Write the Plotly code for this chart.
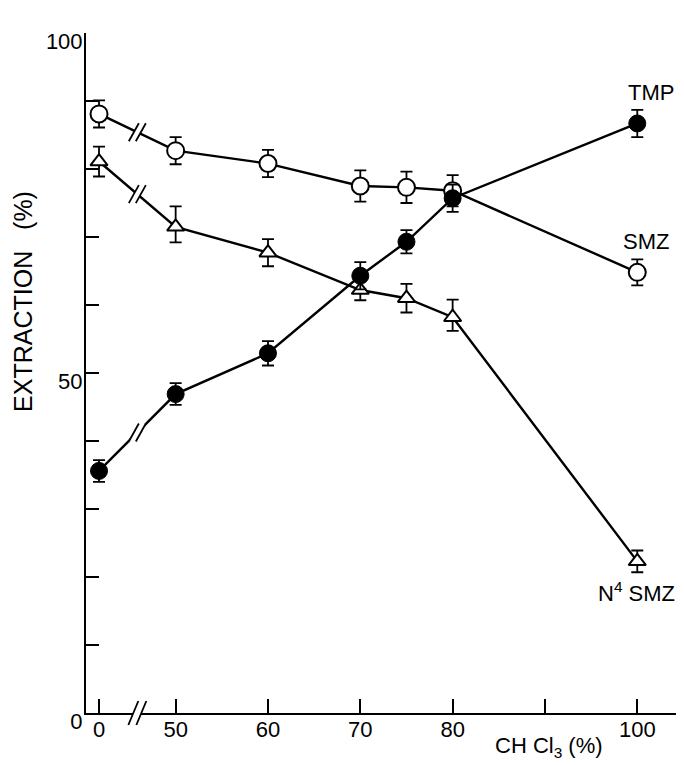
import plotly.graph_objects as go

# ---- data ----
chcl3_pct = [0, 50, 60, 70, 75, 80, 100]

tmp = [35.6, 46.9, 52.9, 64.3, 69.3, 75.7, 86.7]
tmp_err = [1.6, 1.6, 1.8, 2.0, 1.7, 2.0, 2.0]

smz = [88.1, 82.7, 80.8, 77.5, 77.3, 76.8, 64.8]
smz_err = [2.0, 2.0, 2.0, 2.3, 2.3, 2.3, 1.9]

n4smz = [81.1, 71.5, 67.7, 62.2, 61.0, 58.2, 22.3]
n4smz_err_plus = [2.2, 3.0, 2.0, 1.5, 2.1, 2.6, 1.6]
n4smz_err_minus = [2.2, 2.3, 2.0, 1.5, 2.1, 2.0, 1.6]

x_major_ticks = [0, 50, 60, 70, 80, 100]
x_major_text = ["0", "50", "60", "70", "80", "100"]
x_minor_ticks = [90]
y_major_ticks = [0, 50, 100]
y_major_text = ["0", "50", "100"]
y_minor_ticks = [10, 20, 30, 40, 60, 70, 80, 90]

# ---- broken x axis: values below the break are placed just left of 50 ----
BREAK_AT = 50
ZERO_POS = 41.7  # axis position used for the 0 % point (compressed segment)


def axis_pos(v):
    return v if v >= BREAK_AT else ZERO_POS + v


xp = [axis_pos(v) for v in chcl3_pct]
xtick_pos = [axis_pos(v) for v in x_major_ticks]

FONT = "Liberation Sans, Arial, Helvetica, sans-serif"

fig = go.Figure()

line_style = dict(color="black", width=2.4)
err_common = dict(color="black", thickness=1.8, width=6)

fig.add_trace(go.Scatter(
    x=xp, y=smz, mode="lines+markers", name="SMZ",
    line=line_style,
    marker=dict(symbol="circle", size=17, color="white",
                line=dict(color="black", width=2)),
    error_y=dict(type="data", array=smz_err, visible=True, **err_common),
))
fig.add_trace(go.Scatter(
    x=xp, y=n4smz, mode="lines+markers", name="N4 SMZ",
    line=line_style,
    marker=dict(symbol="triangle-up", size=15, color="white",
                line=dict(color="black", width=2)),
    error_y=dict(type="data", array=n4smz_err_plus,
                 arrayminus=n4smz_err_minus, symmetric=False,
                 visible=True, **err_common),
))
fig.add_trace(go.Scatter(
    x=xp, y=tmp, mode="lines+markers", name="TMP",
    line=line_style,
    marker=dict(symbol="circle", size=17, color="black",
                line=dict(color="black", width=1)),
    error_y=dict(type="data", array=tmp_err, visible=True, **err_common),
))

# ---- break marks "//" ----
shapes = []


def break_mark(xa, ya, yref="y", half_h=9, half_w=5, gap=3.5):
    shapes.append(dict(
        type="path", xref="x", yref=yref, xsizemode="pixel", ysizemode="pixel",
        xanchor=xa, yanchor=ya,
        path=(f"M {-gap - half_w},{-half_h} L {gap - half_w},{-half_h} "
              f"L {gap + half_w},{half_h} L {-gap + half_w},{half_h} Z"),
        fillcolor="white", line=dict(width=0), layer="above"))
    for cx in (-gap, gap):
        shapes.append(dict(
            type="line", xref="x", yref=yref, xsizemode="pixel",
            ysizemode="pixel", xanchor=xa, yanchor=ya,
            x0=cx - half_w, y0=-half_h, x1=cx + half_w, y1=half_h,
            line=dict(color="black", width=1.8), layer="above"))


for series in (smz, n4smz, tmp):
    break_mark((xp[0] + xp[1]) / 2, (series[0] + series[1]) / 2)
# axis break
break_mark((xp[0] + xp[1]) / 2, 0, yref="paper", half_h=12, half_w=5, gap=4)

# ---- labels ----
LABEL_FONT = dict(size=22, color="black", family=FONT)
annotations = [
    dict(x=xp[-1], y=tmp[-1], xref="x", yref="y", text="TMP",
         showarrow=False, xshift=14, yshift=31, font=LABEL_FONT),
    dict(x=xp[-1], y=smz[-1], xref="x", yref="y", text="SMZ",
         showarrow=False, xshift=9, yshift=31, font=LABEL_FONT),
    dict(x=xp[-1], y=n4smz[-1], xref="x", yref="y", text="N<sup>4</sup> SMZ",
         showarrow=False, xshift=-1, yshift=-31, font=LABEL_FONT),
    dict(x=0.7742, y=-0.0507, xref="paper", yref="paper",
         text="CH Cl<sub>3</sub> (%)", showarrow=False,
         xanchor="center", yanchor="middle", font=LABEL_FONT),
    dict(x=-0.1054, y=0.606, xref="paper", yref="paper",
         text="EXTRACTION   (%)", textangle=-90, showarrow=False,
         xanchor="center", yanchor="middle",
         font=dict(size=25, color="black", family=FONT)),
]

# The page body has an 8px margin, so the figure is 8px smaller and its
# margins are shifted to keep the plot area where the reference has it.
fig.update_layout(
    template="none",
    width=676, height=757,
    margin=dict(l=78, r=0, t=25, b=52, pad=0),
    paper_bgcolor="white", plot_bgcolor="white",
    showlegend=False,
    font=dict(family=FONT, color="black", size=20),
    shapes=shapes, annotations=annotations,
    xaxis=dict(
        automargin=False,
        range=[40.29, 105.06], showgrid=False, zeroline=False,
        showline=True, linecolor="black", linewidth=2, mirror=False,
        ticks="inside", ticklen=14, tickwidth=1.8, tickcolor="black",
        tickmode="array", tickvals=xtick_pos, ticktext=x_major_text,
        minor=dict(tickmode="array", tickvals=x_minor_ticks, ticks="inside",
                   ticklen=14, tickwidth=1.8, tickcolor="black",
                   showgrid=False),
        tickfont=dict(size=22, family=FONT, color="black"),
        ticklabelstandoff=-4,
        fixedrange=True,
    ),
    yaxis=dict(
        automargin=False,
        range=[0, 100], showgrid=False, zeroline=False,
        showline=True, linecolor="black", linewidth=2, mirror=False,
        ticks="inside", ticklen=13, tickwidth=1.8, tickcolor="black",
        tickmode="array", tickvals=y_major_ticks, ticktext=y_major_text,
        minor=dict(tickmode="array", tickvals=y_minor_ticks, ticks="inside",
                   ticklen=13, tickwidth=1.8, tickcolor="black",
                   showgrid=False),
        tickfont=dict(size=22, family=FONT, color="black"),
        ticklabelshift=8, ticklabelstandoff=-3,
        fixedrange=True,
    ),
)

fig.write_html("out.html")
